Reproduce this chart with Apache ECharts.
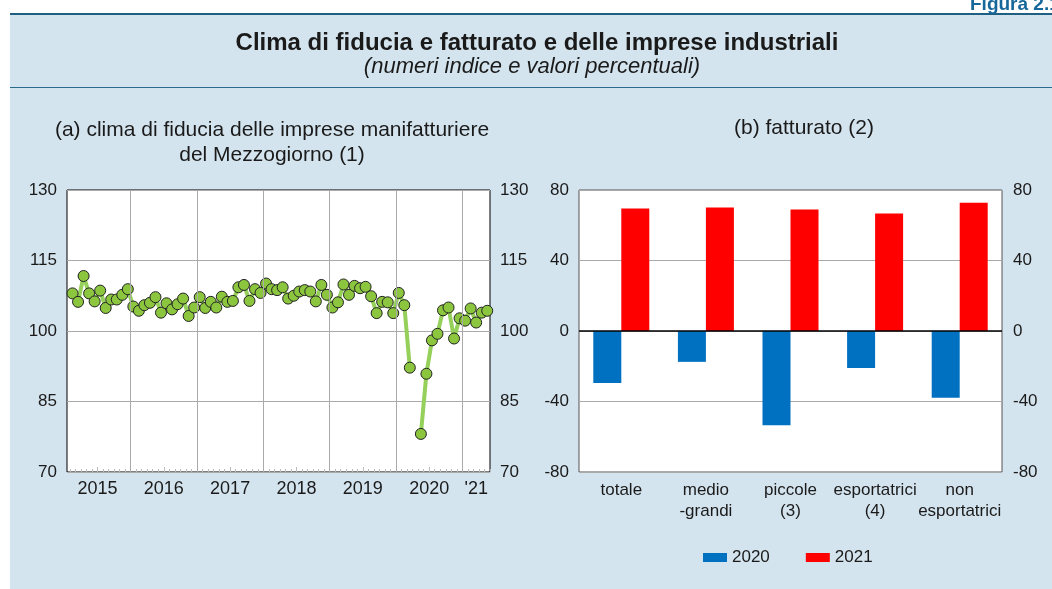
<!DOCTYPE html>
<html>
<head>
<meta charset="utf-8">
<script src="https://cdn.jsdelivr.net/npm/echarts@6/dist/echarts.min.js"></script>
<style>
  html, body { margin: 0; padding: 0; background: #fff; }
  #panel { position: absolute; left: 10px; top: 13px; width: 1042px; height: 576px; background: #d4e4ee;
           border-top: 2.5px solid #1e5f82; box-sizing: border-box; }
  #sep { position: absolute; left: 10px; top: 87px; width: 1042px; height: 0; border-top: 1.5px solid #2a6a8c; }
  #chart { position: absolute; left: 0; top: 0; width: 1052px; height: 589px; }
</style>
</head>
<body>
<div id="panel"></div>
<div id="sep"></div>
<div id="chart"></div>
<script>
  // (a) clima di fiducia, dati mensili: indice 0 = gennaio 2015, primo dato febbraio 2015
  const firstMonth = 1
  const clima = [
    108.0, 106.2, 111.7, 108.0, 106.3, 108.6, 104.9, 106.7, 106.7, 107.7, 108.9,          // 2015
    105.2, 104.3, 105.5, 106.0, 107.2, 103.9, 105.9, 104.6, 105.7, 106.9, 103.2, 105.0,   // 2016
    107.2, 104.9, 106.2, 105.0, 107.3, 106.2, 106.4, 109.3, 109.8, 106.4, 108.9, 108.1,   // 2017
    110.1, 108.9, 108.7, 109.3, 106.9, 107.5, 108.4, 108.7, 108.4, 106.3, 109.8, 107.7,   // 2018
    105.0, 106.1, 109.9, 107.7, 109.6, 109.1, 109.4, 107.4, 103.8, 106.2, 106.1, 103.8,   // 2019
    108.1, 105.5, 92.2, null, 78.1, 90.9, 98.0, 99.4, 104.4, 105.0, 98.4, 102.7,          // 2020
    102.2, 104.8, 101.8, 103.9, 104.3                                                     // 2021
  ]
  const yearLabels = ['2015', '2016', '2017', '2018', '2019', '2020', "'21"]
  const yearLabelPos = [5.5, 17.5, 29.5, 41.5, 53.5, 65.5, 74]
  const yearLines = [11.5, 23.5, 35.5, 47.5, 59.5, 71.5]
  const monthTicks = []
  for (let m = 0; m < 77; m++) monthTicks.push(m + 0.5)

  // (b) fatturato
  const categorie = ['totale', 'medio\n-grandi', 'piccole\n(3)', 'esportatrici\n(4)', 'non\nesportatrici']
  const fatt2020 = [-29.5, -17.5, -53.5, -21.0, -37.9]
  const fatt2021 = [69.5, 70.1, 68.9, 66.7, 72.8]

  const font = 'Liberation Sans, Arial, sans-serif'
  const labelStyle = { fontFamily: font, fontSize: 17, color: '#1a1a1a' }

  const chart = echarts.init(document.getElementById('chart'))
  chart.setOption({
    backgroundColor: 'transparent',
    animation: false,
    textStyle: { fontFamily: font },
    graphic: [
      { type: 'text', left: 970, top: -5, style: { text: 'Figura 2.1', font: 'bold 19px ' + font, fill: '#17689a' } },
      { type: 'text', x: 537, y: 31, style: { text: 'Clima di fiducia e fatturato e delle imprese industriali', font: 'bold 24px ' + font, fill: '#1a1a1a', align: 'center' } },
      { type: 'text', x: 532, y: 56, style: { text: '(numeri indice e valori percentuali)', font: 'italic 22px ' + font, fill: '#1a1a1a', align: 'center' } },
      { type: 'text', x: 272, y: 118, style: { text: '(a) clima di fiducia delle imprese manifatturiere\ndel Mezzogiorno (1)', font: '21px ' + font, fill: '#1a1a1a', align: 'center', lineHeight: 25 } },
      { type: 'text', x: 804, y: 118, style: { text: '(b) fatturato (2)', font: '21px ' + font, fill: '#1a1a1a', align: 'center' } }
    ],
    grid: [
      { left: 67, top: 190, width: 423, height: 282, show: true, backgroundColor: '#fff', borderColor: '#000', borderWidth: 1 },
      { left: 579, top: 190, width: 423, height: 282, show: true, backgroundColor: '#fff', borderColor: '#555', borderWidth: 1 }
    ],
    legend: {
      data: ['2020', '2021'],
      left: 698, top: 544,
      icon: 'rect', itemWidth: 24, itemHeight: 9, itemGap: 36,
      textStyle: labelStyle
    },
    xAxis: [
      {
        type: 'value', gridIndex: 0, min: 0, max: 76.5,
        axisLine: { show: false },
        splitLine: { show: false },
        axisTick: { show: true, inside: true, length: 3, customValues: monthTicks, lineStyle: { color: '#bbb' } },
        axisLabel: {
          ...labelStyle, fontSize: 18, margin: 8, customValues: yearLabelPos,
          formatter: v => yearLabels[yearLabelPos.indexOf(v)]
        }
      },
      {
        type: 'value', gridIndex: 0, min: 0, max: 76.5, position: 'bottom',
        axisLine: { show: false }, splitLine: { show: false }, axisLabel: { show: false },
        axisTick: { show: true, inside: true, length: 5, customValues: yearLabelPos.slice(0, 6), lineStyle: { color: '#bbb' } }
      },
      {
        type: 'category', gridIndex: 1, data: categorie,
        axisLine: { show: false }, axisTick: { show: false },
        axisLabel: { ...labelStyle, margin: 8, lineHeight: 21, interval: 0 }
      }
    ],
    yAxis: [
      {
        type: 'value', gridIndex: 0, min: 70, max: 130, interval: 15,
        axisLine: { show: false }, axisTick: { show: false },
        splitLine: { lineStyle: { color: '#aaa' } },
        axisLabel: { ...labelStyle, margin: 10 }
      },
      {
        type: 'value', gridIndex: 0, min: 70, max: 130, interval: 15, position: 'right',
        axisLine: { show: false }, axisTick: { show: false }, splitLine: { show: false },
        axisLabel: { ...labelStyle, margin: 10 }
      },
      {
        type: 'value', gridIndex: 1, min: -80, max: 80, interval: 40,
        axisLine: { show: false }, axisTick: { show: false },
        splitLine: { lineStyle: { color: '#aaa' } },
        axisLabel: { ...labelStyle, margin: 10 }
      },
      {
        type: 'value', gridIndex: 1, min: -80, max: 80, interval: 40, position: 'right',
        axisLine: { show: false }, axisTick: { show: false }, splitLine: { show: false },
        axisLabel: { ...labelStyle, margin: 11 }
      }
    ],
    series: [
      {
        name: 'clima',
        type: 'line',
        xAxisIndex: 0, yAxisIndex: 0,
        data: clima.map((v, i) => [firstMonth + i, v]),
        connectNulls: false,
        lineStyle: { color: '#95d05a', width: 4 },
        symbol: 'circle', symbolSize: 11,
        itemStyle: { color: '#8cc63f', borderColor: '#222', borderWidth: 1 },
        markLine: {
          silent: true, symbol: 'none', label: { show: false },
          lineStyle: { color: '#aaa', type: 'solid', width: 1 },
          data: yearLines.map(x => ({ xAxis: x }))
        },
        z: 3
      },
      {
        name: '2020',
        type: 'bar',
        xAxisIndex: 2, yAxisIndex: 2,
        data: fatt2020,
        barWidth: 28, barGap: '0%',
        itemStyle: { color: '#0070c0' },
        markLine: {
          silent: true, symbol: 'none', label: { show: false },
          lineStyle: { color: '#000', type: 'solid', width: 1.5 },
          data: [{ yAxis: 0 }]
        }
      },
      {
        name: '2021',
        type: 'bar',
        xAxisIndex: 2, yAxisIndex: 2,
        data: fatt2021,
        barWidth: 28,
        itemStyle: { color: '#ff0000' }
      }
    ]
  })
</script>
</body>
</html>
